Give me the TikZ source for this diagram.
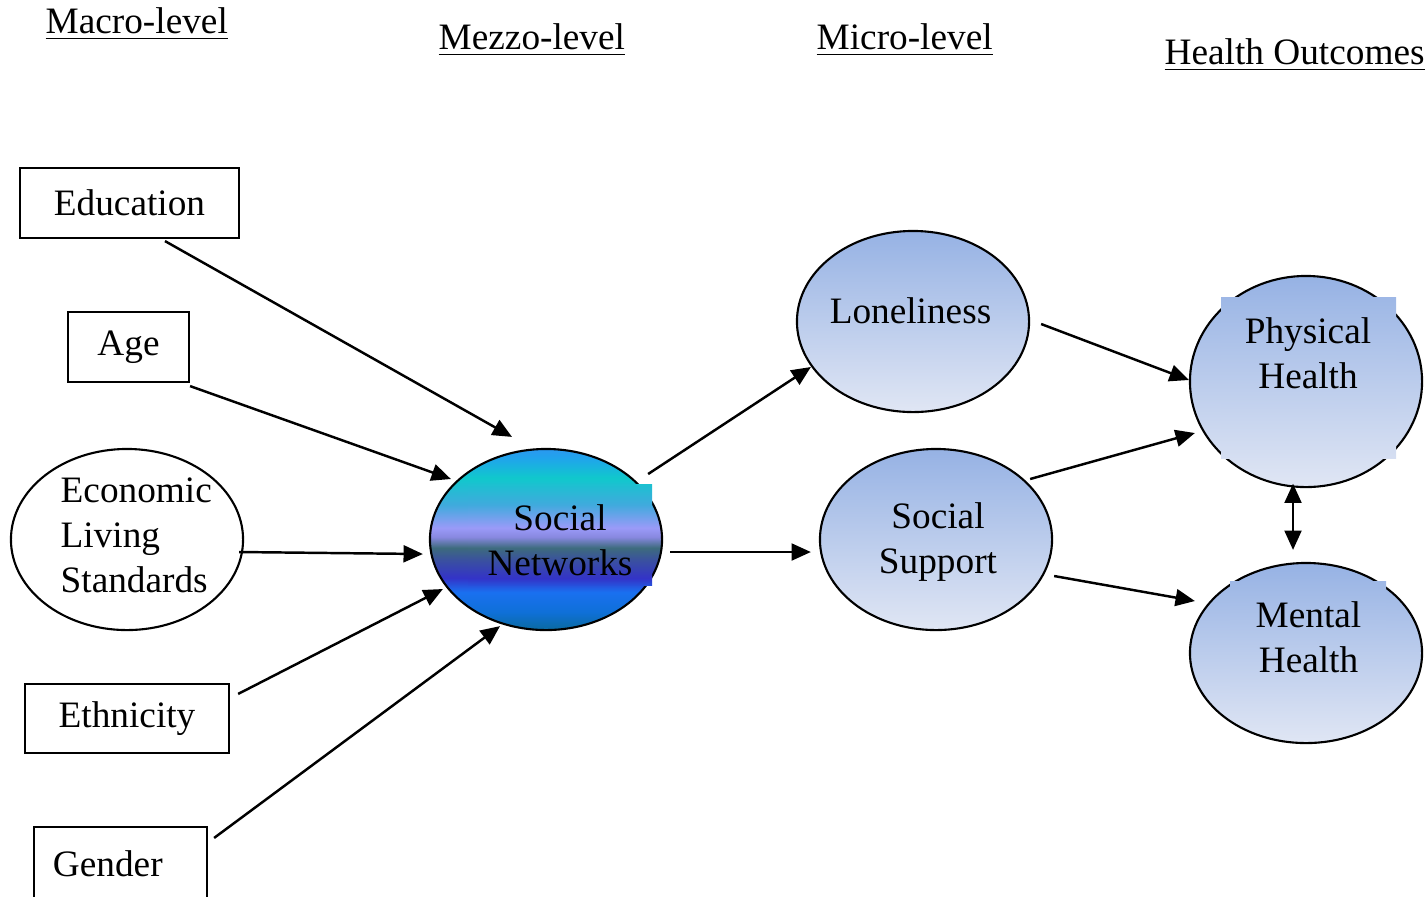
\documentclass[tikz,border=0pt]{standalone}
\usepackage{fontspec}
\setmainfont{Liberation Serif}
\usetikzlibrary{shapes.geometric,arrows.meta}

\definecolor{blobtop}{RGB}{150,178,228}
\definecolor{blobbot}{RGB}{224,230,244}
% colours of the social networks blob, bottom to top
\definecolor{netA}{RGB}{10,106,160}
\definecolor{netB}{RGB}{15,112,216}
\definecolor{netC}{RGB}{26,112,240}
\definecolor{netD}{RGB}{51,51,200}
\definecolor{netL}{RGB}{58,80,160}
\definecolor{netE}{RGB}{61,107,125}
\definecolor{netF}{RGB}{136,136,224}
\definecolor{netG}{RGB}{154,154,248}
\definecolor{netH}{RGB}{64,170,221}
\definecolor{netI}{RGB}{16,200,204}
\definecolor{netJ}{RGB}{32,164,236}
\definecolor{netK}{RGB}{42,152,240}
\pgfdeclareverticalshading{netshade}{100bp}{color(0bp)=(netA); color(25bp)=(netA);
  color(30bp)=(netB); color(35.5bp)=(netC); color(39.4bp)=(netD); color(44.3bp)=(netL);
  color(47.7bp)=(netE); color(50.7bp)=(netF); color(53.2bp)=(netG); color(59.5bp)=(netH);
  color(67bp)=(netI); color(72.5bp)=(netJ); color(75bp)=(netK); color(100bp)=(netK)}

\begin{document}
\begin{tikzpicture}[x=0.01cm,y=-0.01cm,>={Triangle[length=5.5pt,width=4.8pt]},
  font=\fontsize{10.6}{12.8}\selectfont,
  level head/.style={anchor=base west,inner sep=0pt},
  factor box/.style={draw,line width=0.6pt,minimum height=0.70cm,inner sep=0pt},
  factor blob/.style={ellipse,draw,line width=0.6pt,inner sep=0pt,
    minimum width=2.32cm,minimum height=1.81cm},
  outcome blob/.style={factor blob,top color=blobtop,bottom color=blobbot},
  blob text/.style={align=center,inner sep=0pt},
  link/.style={->,line width=0.7pt}]

  \useasboundingbox (0,0) rectangle (1425,896);

  % headings
  \node[level head] (h-macro) at (45,33) {\underline{Macro-level}};
  \node[level head] (h-mezzo) at (438,49) {\underline{Mezzo-level}};
  \node[level head] (h-micro) at (816,49) {\underline{Micro-level}};
  \node[level head] (h-health) at (1164,64) {\underline{Health Outcomes}};

  % macro level
  \node[factor box,minimum width=2.19cm] (edu) at (129.5,203) {Education};
  \node[factor box,minimum width=1.21cm] (age) at (128.5,347) {Age};
  \node[factor blob] (els) at (127,539.5) {};
  \node[blob text,align=left,anchor=west] (els-t) at (60,535.5) {Economic\\Living\\Standards};
  \node[factor box,minimum width=2.04cm,minimum height=0.69cm] (eth) at (127,718.5) {Ethnicity};
  \node[factor box,minimum width=1.73cm,minimum height=0.73cm] (gen) at (120.5,863.5) {\makebox[1.35cm][l]{Gender}};

  % mezzo level
  \node[factor blob,shading=netshade] (sn) at (546,539.5) {};
  \begin{scope}
    \clip (468,484) rectangle (652,585);
    \shade[shading=netshade] (sn.west |- sn.north) rectangle (sn.east |- sn.south);
  \end{scope}
  \node[blob text] (sn-t) at (560,540) {Social\\Networks};

  % micro level
  \node[outcome blob] (lon) at (913,321.5) {};
  \node[blob text] (lon-t) at (910.5,311) {Loneliness};
  \node[outcome blob] (sup) at (936,539.5) {};
  \node[blob text] (sup-t) at (938,542) {Social\\Support};

  % health outcomes
  \node[outcome blob,minimum height=2.11cm] (phy) at (1306,381.5) {};
  \begin{scope}
    \clip (1221,297) rectangle (1396,458);
    \shade[top color=blobtop,bottom color=blobbot] (phy.west |- phy.north) rectangle (phy.east |- phy.south);
  \end{scope}
  \node[blob text] (phy-t) at (1308,353) {Physical\\Health};
  \node[outcome blob,minimum height=1.80cm] (men) at (1306,653) {};
  \begin{scope}
    \clip (1230,581) rectangle (1386,700);
    \shade[top color=blobtop,bottom color=blobbot] (men.west |- men.north) rectangle (men.east |- men.south);
  \end{scope}
  \node[blob text] (men-t) at (1308.5,637) {Mental\\Health};

  % paths
  \draw[link] ([shift={(35.5,2)}]edu.south) -- ([shift={(-34,-11)}]sn.north);
  \draw[link] ([shift={(0,3)}]age.south east) -- ([shift={(22,-60.5)}]sn.west);
  \draw[link] ([shift={(-5,12.5)}]els.east) -- ([shift={(-6,14.5)}]sn.west);
  \draw[link] ([shift={(8,11)}]eth.north east) -- ([shift={(14,49.5)}]sn.west);
  \draw[link] ([shift={(6,12)}]gen.north east) -- ([shift={(-46,-5)}]sn.south);
  \draw[link] ([shift={(-15,-65.5)}]sn.east) -- ([shift={(15,45.5)}]lon.west);
  \draw[link] ([shift={(7,12.5)}]sn.east) -- ([shift={(-8,12.5)}]sup.west);
  \draw[link] ([shift={(11,2.5)}]lon.east) -- ([shift={(0,-1.5)}]phy.west);
  \draw[link] ([shift={(-23,-60.5)}]sup.east) -- ([shift={(6,51.5)}]phy.west);
  \draw[link] ([shift={(1,36.5)}]sup.east) -- ([shift={(6,-52)}]men.west);
  \draw[link,<->] ([shift={(-13,-4.5)}]phy.south) -- ([shift={(-13,-12)}]men.north);
\end{tikzpicture}
\end{document}
